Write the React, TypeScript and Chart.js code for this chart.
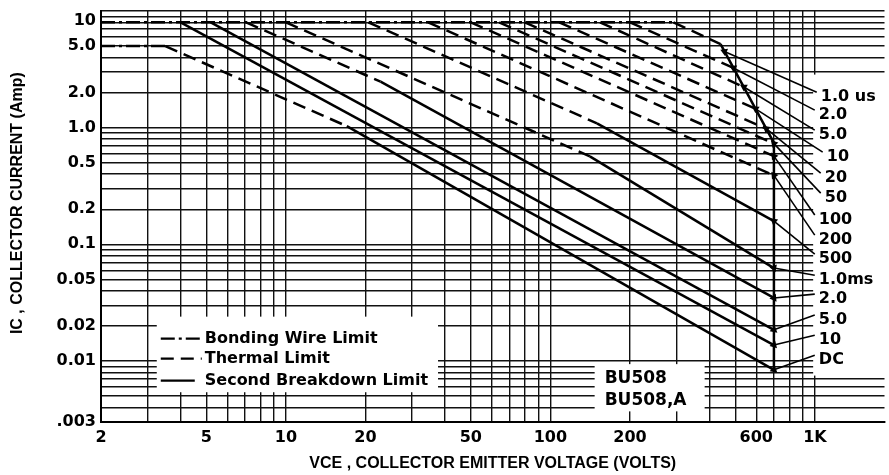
import React, { useEffect, useRef } from 'react';
import { Chart, registerables } from 'chart.js';

Chart.register(...registerables);

// ---- axis grids (log decades) ----
const X_GRID = [2, 3, 4, 5, 6, 7, 8, 9, 10, 20, 30, 40, 50, 60, 70, 80, 90, 100, 200, 300, 400, 500, 600, 700, 800, 900, 1000];
const X_LABELED = [2, 5, 10, 20, 50, 100, 200, 600, 1000];
const X_LABELS = ['2', '5', '10', '20', '50', '100', '200', '600', '1K'];

const Y_GRID = [
  0.003, 0.004, 0.005, 0.006, 0.007, 0.008, 0.009,
  0.01, 0.02, 0.03, 0.04, 0.05, 0.06, 0.07, 0.08, 0.09,
  0.1, 0.2, 0.3, 0.4, 0.5, 0.6, 0.7, 0.8, 0.9,
  1, 2, 3, 4, 5, 6, 7, 8, 9, 10,
];
const Y_LABELED = [0.003, 0.01, 0.02, 0.05, 0.1, 0.2, 0.5, 1, 2, 5, 10];
const Y_LABELS = ['.003', '0.01', '0.02', '0.05', '0.1', '0.2', '0.5', '1.0', '2.0', '5.0', '10'];

// ---- safe operating area curves, one per pulse width ----
const PULSE_NAMES = ['1.0 us', '2.0', '5.0', '10', '20', '50', '100', '200', '500', '1.0ms', '2.0', '5.0', '10', 'DC'];

// vertices: collector-emitter voltage (V)
const CURVE_VCE: number[][] = [
  [2, 292, 440, 700, 700],
  [200, 492],
  [154, 539],
  [108, 597],
  [80, 655],
  [64, 700],
  [50, 700],
  [34.5, 700],
  [20.5, 150, 700],
  [10, 141, 700],
  [7.07, 22.8, 700],
  [5.2, 700],
  [4, 700],
  [2, 3.5, 17, 700],
];
// vertices: collector current (A)
const CURVE_IC: number[][] = [
  [8, 8, 5.2, 0.74, 0.0084],
  [8, 3.25],
  [8, 2.23],
  [8, 1.45],
  [8, 0.98],
  [8, 0.73],
  [8, 0.57],
  [8, 0.39],
  [8, 1.09, 0.158],
  [8, 0.567, 0.0626],
  [8, 2.48, 0.0347],
  [8, 0.0185],
  [8, 0.0137],
  [5, 5, 1.03, 0.0084],
];
// limit kind of each segment: B bonding wire, T thermal, S second breakdown
const CURVE_KIND: string[][] = [
  ['B', 'T', 'S', 'S'],
  ['T'], ['T'], ['T'], ['T'], ['T'], ['T'], ['T'],
  ['T', 'S'], ['T', 'S'], ['T', 'S'],
  ['S'], ['S'],
  ['B', 'T', 'S'],
];

// where each label's arrow touches its curve
const TIP_VCE = [455, 492, 539, 597, 655, 700, 700, 700, 700, 700, 700, 700, 700, 700];
const TIP_IC = [4.5, 3.25, 2.23, 1.45, 0.98, 0.73, 0.57, 0.39, 0.158, 0.0626, 0.0347, 0.0185, 0.0137, 0.0084];

// pulse-width label anchors
const LABEL_VCE = [1053, 1035, 1035, 1109, 1090, 1090, 1035, 1035, 1035, 1035, 1035, 1035, 1035, 1035];
const LABEL_IC = [1.83, 1.285, 0.866, 0.561, 0.371, 0.25, 0.162, 0.109, 0.0748, 0.0494, 0.034, 0.0225, 0.0151, 0.0102];

const LEGEND_TEXT = ['Bonding Wire Limit', 'Thermal Limit', 'Second Breakdown Limit'];
const LEGEND_KIND = ['B', 'T', 'S'];
const PART_NAMES = ['BU508', 'BU508,A'];

const DASH: Record<string, number[]> = { B: [14, 4, 3, 4], T: [13, 7], S: [] };

const TICK_FONT = { family: 'DejaVu Sans', weight: 'bold' as const, size: 16 };
const TITLE_FONT = { family: 'Liberation Sans', weight: 'bold' as const, size: 16 };

const near = (a: number, b: number) => Math.abs(a - b) / b < 1e-6;

// white panels cut out of the grid: [vce from, vce to, ic top, ic bottom]
const PANELS: number[][] = [
  [3.25, 37.6, 0.024, 0.0054],
  [147, 383, 0.0094, 0.0037],
  [985, 5000, 2.85, 0.0075],
];

const paperPlugin = {
  id: 'paper',
  beforeDatasetsDraw(chart: any) {
    const { ctx, scales } = chart;
    const xs = scales.x;
    const ys = scales.y;
    ctx.save();
    ctx.fillStyle = '#fff';
    PANELS.forEach(([v0, v1, i0, i1]) => {
      const l = xs.getPixelForValue(v0);
      const r = Math.min(xs.getPixelForValue(v1), chart.width);
      const t = ys.getPixelForValue(i0);
      const b = ys.getPixelForValue(i1);
      ctx.fillRect(l, t, r - l, b - t);
    });
    ctx.restore();
  },
  afterDatasetsDraw(chart: any) {
    const { ctx, scales } = chart;
    const xs = scales.x;
    const ys = scales.y;
    ctx.save();
    ctx.fillStyle = '#000';
    ctx.strokeStyle = '#000';
    ctx.textBaseline = 'middle';
    ctx.textAlign = 'left';

    // pulse width labels
    ctx.font = 'bold 16px "DejaVu Sans"';
    PULSE_NAMES.forEach((name, k) => {
      ctx.fillText(name, xs.getPixelForValue(LABEL_VCE[k]), ys.getPixelForValue(LABEL_IC[k]));
    });

    // line style key
    const lx = xs.getPixelForValue(PANELS[0][0]);
    const ty = ys.getPixelForValue(PANELS[0][2]);
    const rows = [22, 42, 64];
    ctx.lineWidth = 2.2;
    LEGEND_TEXT.forEach((txt, k) => {
      const yy = ty + rows[k];
      ctx.setLineDash(DASH[LEGEND_KIND[k]]);
      ctx.beginPath();
      ctx.moveTo(lx + 4, yy);
      ctx.lineTo(lx + (k === 2 ? 38 : 45), yy);
      ctx.stroke();
      ctx.setLineDash([]);
      ctx.fillText(txt, lx + 48, yy);
    });

    // device names
    ctx.font = 'bold 17px "DejaVu Sans"';
    const bx = xs.getPixelForValue(PANELS[1][0]);
    const by = ys.getPixelForValue(PANELS[1][2]);
    ctx.fillText(PART_NAMES[0], bx + 10, by + 14);
    ctx.fillText(PART_NAMES[1], bx + 10, by + 36);
    ctx.restore();
  },
};

export default function App() {
  const ref = useRef<HTMLCanvasElement>(null);

  useEffect(() => {
    const canvas = ref.current;
    if (!canvas) return;

    const datasets: any[] = [];
    CURVE_VCE.forEach((vs, k) => {
      const kinds = CURVE_KIND[k];
      datasets.push({
        label: PULSE_NAMES[k],
        data: vs.map((v, j) => ({ x: v, y: CURVE_IC[k][j] })),
        borderColor: '#000',
        borderWidth: 2.5,
        borderCapStyle: 'butt',
        pointRadius: 0,
        tension: 0,
        fill: false,
        segment: {
          borderDash: (c: any) => DASH[kinds[c.p0DataIndex]] || [],
        },
      });
    });
    PULSE_NAMES.forEach((name, k) => {
      datasets.push({
        label: name + ' pointer',
        data: [
          { x: TIP_VCE[k], y: TIP_IC[k] },
          { x: LABEL_VCE[k] * 0.965, y: LABEL_IC[k] * 1.1 },
        ],
        borderColor: '#000',
        borderWidth: 1.6,
        pointRadius: [4.5, 0],
        pointStyle: 'triangle',
        pointBackgroundColor: '#000',
        pointBorderWidth: 0,
        pointRotation: (c: any) => {
          const xs = c.chart.scales.x;
          const ys = c.chart.scales.y;
          if (!xs || !ys) return 0;
          const p = c.dataset.data;
          const dx = xs.getPixelForValue(p[0].x) - xs.getPixelForValue(p[1].x);
          const dy = ys.getPixelForValue(p[0].y) - ys.getPixelForValue(p[1].y);
          return (Math.atan2(dx, -dy) * 180) / Math.PI;
        },
        tension: 0,
        fill: false,
      });
    });

    const chart = new Chart(canvas, {
      type: 'line',
      data: { datasets },
      plugins: [paperPlugin],
      options: {
        responsive: false,
        animation: false,
        devicePixelRatio: 1,
        layout: { padding: { top: 11, right: 0, bottom: 0, left: 0 } },
        plugins: {
          legend: { display: false },
          tooltip: { enabled: false },
        },
        scales: {
          x: {
            type: 'logarithmic',
            min: 2,
            max: 1833,
            bounds: 'data',
            afterBuildTicks: (s: any) => {
              s.ticks = X_GRID.map((v) => ({ value: v }));
            },
            afterFit: (s: any) => {
              s.height = 53;
              s.paddingLeft = 0;
              s.paddingRight = 0;
            },
            grid: { color: '#111', lineWidth: 1.4, drawTicks: false },
            border: { display: true, color: '#000', width: 2 },
            ticks: {
              autoSkip: false,
              maxRotation: 0,
              padding: 6,
              color: '#000',
              font: TICK_FONT,
              callback: (v: any) => {
                const i = X_LABELED.findIndex((t) => near(Number(v), t));
                return i >= 0 ? X_LABELS[i] : '';
              },
            },
            title: {
              display: true,
              text: 'VCE , COLLECTOR EMITTER VOLTAGE (VOLTS)',
              color: '#000',
              font: TITLE_FONT,
              padding: { top: 0, bottom: 2 },
            },
          },
          y: {
            type: 'logarithmic',
            min: 0.003,
            max: 10,
            bounds: 'data',
            afterBuildTicks: (s: any) => {
              s.ticks = Y_GRID.map((v) => ({ value: v }));
            },
            afterFit: (s: any) => {
              s.width = 101;
              s.paddingTop = 0;
              s.paddingBottom = 0;
            },
            grid: { color: '#111', lineWidth: 1.4, drawTicks: false },
            border: { display: true, color: '#000', width: 2 },
            ticks: {
              autoSkip: false,
              padding: 5,
              color: '#000',
              font: TICK_FONT,
              callback: (v: any) => {
                const i = Y_LABELED.findIndex((t) => near(Number(v), t));
                if (i < 0) return '';
                // top label sits just below the frame edge
                return i === Y_LABELED.length - 1 ? ['', Y_LABELS[i]] : Y_LABELS[i];
              },
            },
            title: {
              display: true,
              text: '      IC , COLLECTOR CURRENT (Amp)',
              color: '#000',
              font: TITLE_FONT,
              padding: { top: 8, bottom: 0 },
            },
          },
        },
      } as any,
    });

    return () => chart.destroy();
  }, []);

  return (
    <div style={{ position: 'fixed', left: 0, top: 0, width: 889, height: 475, background: '#fff' }}>
      <canvas ref={ref} width={889} height={475} style={{ display: 'block' }} />
    </div>
  );
}
